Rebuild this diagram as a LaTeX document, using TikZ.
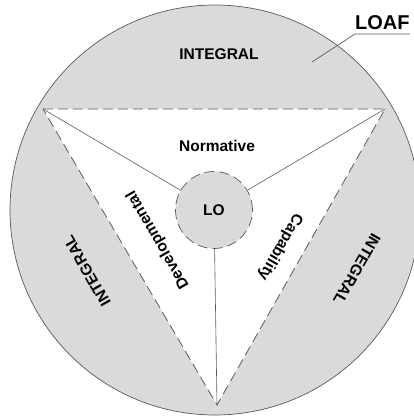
\documentclass[tikz,border=0pt]{standalone}
\usepackage{fontspec}
\setmainfont{Liberation Sans}
\definecolor{loafgray}{RGB}{218,218,218}
\definecolor{linegray}{RGB}{90,90,90}
\tikzset{
  lbl/.style={font=\bfseries\fontsize{15.5}{18}\selectfont},
  spoke/.style={draw=linegray,line width=0.6pt},
  edgedash/.style={draw=linegray,line width=0.8pt,dash pattern=on 10pt off 5pt},
}
\begin{document}
\begin{tikzpicture}[x=1pt,y=1pt]
    \useasboundingbox (-215,-208) rectangle (199,210);
    \fill[loafgray] (0,0) circle (205);
    \draw[linegray,line width=0.7pt] (0,0) circle (205);
    \coordinate (a) at (-172,101);
    \coordinate (b) at (170,101);
    \coordinate (c) at (2,-195);
    \fill[white] (a) -- (b) -- (c) -- cycle;
    \draw[edgedash] (a) -- (b) -- (c) -- cycle;
    \node[lbl,circle,minimum size=77pt,inner sep=0pt,fill=loafgray,edgedash,line width=0.7pt] (lo) at (-1,0) {LO};
    \foreach \v in {a,b,c} \draw[spoke] (\v) -- (lo);
    \node[lbl] (intTop) at (4,156) {INTEGRAL};
    \node[lbl,rotate=120] (intLeft) at (-128,-61) {INTEGRAL};
    \node[lbl,rotate=-120] (intRight) at (142,-59) {INTEGRAL};
    \node[lbl] (norm) at (2,64) {Normative};
    \node[lbl,rotate=120] (dev) at (-57,-30) {Developmental};
    \node[lbl,rotate=-120] (cap) at (65,-37) {Capability};
    \node[lbl,font=\bfseries\fontsize{20}{24}\selectfont,inner xsep=0pt,inner ysep=4pt,anchor=south west] (loaf) at (140,176) {LOAF};
    \coordinate (tip) at (97,148);
    \draw[linegray,line width=0.7pt] (tip) -- (loaf.south west) -- (loaf.south east);
\end{tikzpicture}
\end{document}
